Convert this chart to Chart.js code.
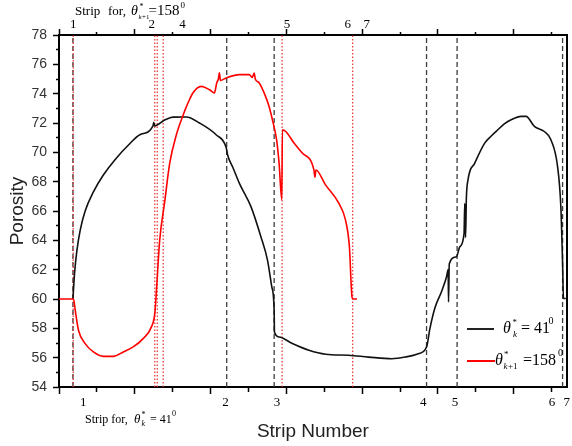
<!DOCTYPE html>
<html><head><meta charset="utf-8">
<script src="https://cdn.jsdelivr.net/npm/chart.js@4.4.1/dist/chart.umd.min.js"></script>
<style>html,body{margin:0;padding:0;background:#fff;}canvas{display:block;}</style>
</head><body>
<canvas id="c" width="572" height="446"></canvas>
<script>
// ---- data (x in distance units, y = porosity) ----
const blackX = [0.184,0.205,0.236,0.280,0.345,0.454,0.585,0.739,0.936,1.067,1.241,1.250,1.262,1.394,1.504,1.680,1.854,2.073,2.205,2.226,2.300,2.379,2.533,2.664,2.751,2.808,2.839,2.843,2.904,3.079,3.298,3.517,3.823,4.085,4.391,4.567,4.741,4.850,4.895,4.961,5.047,5.113,5.135,5.140,5.150,5.244,5.289,5.345,5.354,5.365,5.375,5.397,5.486,5.617,5.700,5.791,5.880,5.966,6.097,6.163,6.273,6.404,6.491,6.579,6.622,6.644,6.657,6.687];
const blackY = [60.0,61.75,63.3,64.7,66.0,67.3,68.45,69.5,70.6,71.2,71.8,72.05,71.8,72.2,72.4,72.41,72.0,71.2,70.35,69.8,68.9,67.9,66.3,64.25,62.65,60.83,59.24,57.75,57.41,56.96,56.5,56.23,56.16,56.04,55.93,56.04,56.27,56.73,58.0,59.4,60.5,61.5,62.0,59.8,62.4,62.88,63.56,64.47,66.5,64.2,66.8,68.12,69.26,70.63,71.1,71.54,71.95,72.22,72.45,72.45,71.77,71.42,70.86,69.03,66.3,62.65,60.03,60.03];
const redX = [0,0.192,0.214,0.257,0.345,0.454,0.585,0.717,0.848,0.979,1.110,1.220,1.264,1.286,1.329,1.394,1.461,1.549,1.635,1.680,1.723,1.766,1.877,1.986,2.051,2.081,2.103,2.117,2.130,2.205,2.379,2.511,2.550,2.575,2.590,2.642,2.707,2.772,2.816,2.871,2.904,2.940,2.948,2.992,3.101,3.210,3.364,3.377,3.390,3.517,3.692,3.780,3.832,3.866,3.879,3.932];
const redY = [60,60,59.24,57.87,56.96,56.39,56.09,56.09,56.39,56.73,57.3,58.1,59.0,60.6,64.02,66.6,69.26,71.2,72.5,73.1,73.6,74.05,74.5,74.27,74.05,74.73,75.0,75.42,74.9,75.07,75.3,75.3,75.1,75.4,75.0,74.73,74.05,73.13,72.22,70.86,69.26,66.76,71.54,71.42,70.63,69.95,68.8,68.3,68.8,67.78,66.53,65.39,63.56,60.15,60.0,60.0];

// strip boundaries
const blackStripLines = [0.184,2.213,2.839,4.850,5.253,6.645];
const redStripLines   = [0.188,1.264,1.297,1.375,2.944,3.875];
// strip number labels
const bottomStripPos    = [0.319,2.196,2.878,4.807,5.227,6.505,6.70];
const bottomStripLabels = ['1','2','3','4','5','6','7'];
const topStripPos       = [0.188,1.224,1.631,3.01,3.81,4.06];
const topStripLabels    = ['1','2','4','5','6','7'];

const xMin = 0, xMax = 6.7, xStep = 0.5;
const yMin = 54, yMax = 78, yStep = 1;

const SERIF = '"Liberation Serif","Times New Roman",serif';
const SANS = '"Liberation Sans",Arial,sans-serif';

function regularTicks(){
  const t=[];
  for(let v=xMin; v<=xMax+1e-9; v+=xStep) t.push({value:+v.toFixed(3)});
  return t;
}
function isMinorX(v){ return Math.abs(v-Math.round(v))>0.01; }

function stripTicks(pos, labels){
  const t = regularTicks();
  pos.forEach((p,i)=>t.push({value:p, strip:true, text:labels[i]}));
  t.sort((a,b)=>a.value-b.value);
  return t;
}

const lineDatasets = [];
blackStripLines.forEach(x=>lineDatasets.push({
  data:[{x:x,y:yMin},{x:x,y:yMax}], borderColor:'#3a3a3a', borderWidth:1.3,
  borderDash:[5,3], pointRadius:0, order:5
}));
redStripLines.forEach(x=>lineDatasets.push({
  data:[{x:x,y:yMin},{x:x,y:yMax}], borderColor:'rgba(232,40,40,0.9)', borderWidth:1.3,
  borderDash:[1.5,2], pointRadius:0, order:4
}));

function rich(ctx, parts){
  for(const p of parts){
    ctx.font = p.f;
    ctx.fillText(p.t, p.x, p.y);
  }
}

const annot = {
  id:'annot',
  afterDraw(chart){
    const ctx = chart.ctx;
    ctx.save();
    ctx.fillStyle = '#000';
    ctx.textBaseline = 'alphabetic';
    ctx.textAlign = 'left';
    // top annotation
    rich(ctx, [
      {t:'Strip', f:'13px '+SERIF, x:75, y:15},
      {t:'for,', f:'13px '+SERIF, x:108, y:15},
      {t:'θ', f:'italic 14px '+SERIF, x:131, y:15},
      {t:'*', f:'8px '+SERIF, x:139.5, y:9},
      {t:'k', f:'italic 7px '+SERIF, x:138.5, y:19},
      {t:'+1', f:'7px '+SERIF, x:142, y:19},
      {t:'=158', f:'15px '+SERIF, x:148.5, y:15},
      {t:'0', f:'9px '+SERIF, x:180.5, y:8}
    ]);
    // bottom annotation
    rich(ctx, [
      {t:'Strip for,', f:'12px '+SERIF, x:85, y:423},
      {t:'θ', f:'italic 13px '+SERIF, x:134, y:423},
      {t:'*', f:'8px '+SERIF, x:141.5, y:417},
      {t:'k', f:'italic 8px '+SERIF, x:141.5, y:426},
      {t:'= 41', f:'12px '+SERIF, x:150, y:423},
      {t:'0', f:'8px '+SERIF, x:172, y:416}
    ]);
    // legend
    ctx.lineWidth = 2;
    ctx.strokeStyle = '#222';
    ctx.beginPath(); ctx.moveTo(467,329); ctx.lineTo(494,329); ctx.stroke();
    ctx.strokeStyle = '#ff0000';
    ctx.beginPath(); ctx.moveTo(467,361); ctx.lineTo(495,361); ctx.stroke();
    rich(ctx, [
      {t:'θ', f:'italic 16px '+SERIF, x:503, y:333},
      {t:'*', f:'9px '+SERIF, x:512.5, y:325},
      {t:'k', f:'italic 9px '+SERIF, x:513, y:337},
      {t:'= 41', f:'16px '+SERIF, x:521, y:333},
      {t:'0', f:'10px '+SERIF, x:548.5, y:324},
      {t:'θ', f:'italic 16px '+SERIF, x:495, y:365},
      {t:'*', f:'9px '+SERIF, x:504, y:357},
      {t:'k', f:'italic 9px '+SERIF, x:503.5, y:369},
      {t:'+1', f:'9px '+SERIF, x:508, y:369},
      {t:'=158', f:'16px '+SERIF, x:523, y:365},
      {t:'0', f:'10px '+SERIF, x:558, y:356}
    ]);
    ctx.restore();
  }
};

Chart.defaults.font.family = SANS;

new Chart(document.getElementById('c'), {
  type:'line',
  data:{
    datasets:[
      {label:'θ*k = 41°', data:blackX.map((x,i)=>({x:x,y:blackY[i]})), borderColor:'#111', borderWidth:1.6,
       pointRadius:0, cubicInterpolationMode:'monotone', order:1, borderJoinStyle:'round'},
      {label:'θ*k+1 = 158°', data:redX.map((x,i)=>({x:x,y:redY[i]})), borderColor:'#ff0000', borderWidth:1.6,
       pointRadius:0, cubicInterpolationMode:'monotone', order:0, borderJoinStyle:'round'},
      ...lineDatasets
    ]
  },
  options:{
    responsive:false, animation:false, devicePixelRatio:1,
    layout:{padding:{left:0,right:3,top:0,bottom:0}, autoPadding:false},
    plugins:{legend:{display:false}, tooltip:{enabled:false}},
    scales:{
      x:{
        type:'linear', position:'bottom', min:xMin, max:xMax,
        afterBuildTicks:s=>{ s.ticks = stripTicks(bottomStripPos, bottomStripLabels); },
        afterFit:s=>{ s.height = 59; },
        grid:{drawOnChartArea:false, drawTicks:true, tickLength:7, tickColor:'#000',
          tickWidth:c=>(c.tick&&c.tick.strip)?0:1.5,
          tickBorderDash:c=>(c.tick&&!c.tick.strip&&isMinorX(c.tick.value))?[4,100]:[]},
        border:{display:true, color:'#000', width:2},
        ticks:{autoSkip:false, maxRotation:0, padding:2, color:'#000',
          font:{family:SERIF, size:13, lineHeight:1},
          callback:(v,i,t)=>t[i].strip?t[i].text:''},
        title:{display:true, text:'Strip Number', color:'#222',
          font:{family:SANS, size:19, lineHeight:1.2}, padding:{top:0,bottom:3}}
      },
      x2:{
        type:'linear', position:'top', min:xMin, max:xMax,
        afterBuildTicks:s=>{ s.ticks = stripTicks(topStripPos, topStripLabels); },
        afterFit:s=>{ s.height = 35; },
        grid:{drawOnChartArea:false, drawTicks:true, tickLength:6, tickColor:'#000',
          tickWidth:c=>(c.tick&&c.tick.strip)?0:1.5,
          tickBorderDash:c=>(c.tick&&!c.tick.strip&&isMinorX(c.tick.value))?[0,3,3,100]:[]},
        border:{display:true, color:'#000', width:2},
        ticks:{autoSkip:false, maxRotation:0, padding:-2, color:'#000',
          font:{family:SERIF, size:13, lineHeight:1},
          callback:(v,i,t)=>t[i].strip?t[i].text:''}
      },
      y:{
        type:'linear', position:'left', min:yMin, max:yMax,
        afterBuildTicks:s=>{ const t=[]; for(let v=yMin; v<=yMax; v+=yStep) t.push({value:v}); s.ticks=t; },
        afterFit:s=>{ s.width = 59; },
        grid:{drawOnChartArea:false, drawTicks:true, tickLength:6, tickColor:'#000', tickWidth:1.5,
          tickBorderDash:c=>(c.tick&&c.tick.value%2!==0)?[0,3,3,100]:[]},
        border:{display:true, color:'#000', width:2},
        ticks:{autoSkip:false, padding:6, color:'#333', font:{family:SANS, size:14},
          callback:v=>(v%2===0)?String(v):''},
        title:{display:true, text:'Porosity', color:'#222',
          font:{family:SANS, size:19, lineHeight:1.2}, padding:{top:6,bottom:0}}
      },
      y2:{
        type:'linear', position:'right', min:yMin, max:yMax,
        afterFit:s=>{ s.width = 0; },
        grid:{drawOnChartArea:false, drawTicks:false},
        border:{display:true, color:'#000', width:2},
        ticks:{display:false}
      }
    }
  },
  plugins:[annot]
});
</script>
</body></html>
